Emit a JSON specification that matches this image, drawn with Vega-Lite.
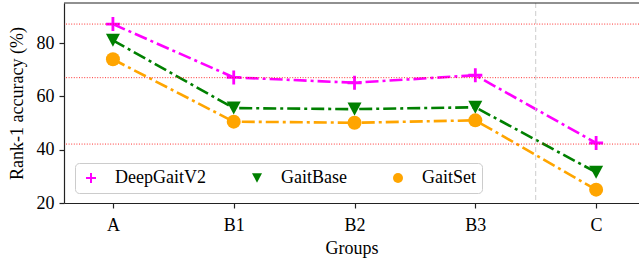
{
  "$schema": "https://vega.github.io/schema/vega-lite/v6.json",
  "width": 575,
  "height": 200,
  "autosize": {"type": "none"},
  "padding": {"left": 64, "top": 3, "right": 0, "bottom": 63},
  "config": {
    "view": {"stroke": null},
    "font": "Liberation Serif",
    "axis": {
      "labelFont": "Liberation Serif",
      "titleFont": "Liberation Serif",
      "labelFontSize": 18,
      "titleFontSize": 18,
      "titleFontWeight": "normal",
      "labelColor": "black",
      "titleColor": "black",
      "domainColor": "#222222",
      "tickColor": "#222222",
      "domainWidth": 1.2,
      "tickWidth": 1.2,
      "tickSize": 5,
      "grid": false
    },
    "legend": {
      "labelFont": "Liberation Serif", "labelFontSize": 18, "labelColor": "black", "padding": 6,
      "strokeColor": "#cccccc", "fillColor": "rgba(255,255,255,0.8)", "cornerRadius": 4,
      "symbolSize": 100, "symbolStrokeWidth": 0, "symbolOffset": 1, "labelOffset": 15, "columnPadding": 41
    }
  },
  "datasets": {
    "acc": [
      {"group": "A", "group_index": 0, "model": "DeepGaitV2", "accuracy": 87.1},
      {"group": "B1", "group_index": 1, "model": "DeepGaitV2", "accuracy": 67.1},
      {"group": "B2", "group_index": 2, "model": "DeepGaitV2", "accuracy": 65.1},
      {"group": "B3", "group_index": 3, "model": "DeepGaitV2", "accuracy": 67.9},
      {"group": "C", "group_index": 4, "model": "DeepGaitV2", "accuracy": 42.5},
      {"group": "A", "group_index": 0, "model": "GaitBase", "accuracy": 81.0},
      {"group": "B1", "group_index": 1, "model": "GaitBase", "accuracy": 55.6},
      {"group": "B2", "group_index": 2, "model": "GaitBase", "accuracy": 55.2},
      {"group": "B3", "group_index": 3, "model": "GaitBase", "accuracy": 55.9},
      {"group": "C", "group_index": 4, "model": "GaitBase", "accuracy": 31.5},
      {"group": "A", "group_index": 0, "model": "GaitSet", "accuracy": 73.9},
      {"group": "B1", "group_index": 1, "model": "GaitSet", "accuracy": 50.5},
      {"group": "B2", "group_index": 2, "model": "GaitSet", "accuracy": 50.1},
      {"group": "B3", "group_index": 3, "model": "GaitSet", "accuracy": 51.0},
      {"group": "C", "group_index": 4, "model": "GaitSet", "accuracy": 25.0}
    ],
    "refs": [{"level": 87.1}, {"level": 67.0}, {"level": 42.1}],
    "split": [{"between": 3.5}],
    "frame": [{"top": 95}]
  },
  "layer": [
    {
      "data": {"name": "acc"},
      "mark": {"type": "line", "strokeWidth": 2.6, "strokeDash": [13, 4, 3, 4]},
      "encoding": {
        "x": {
          "field": "group_index", "type": "quantitative",
          "scale": {"domain": [-0.405, 4.355], "nice": false, "zero": false},
          "axis": {"values": [0, 1, 2, 3, 4], "labelExpr": "['A','B1','B2','B3','C'][datum.value]", "title": "Groups", "labelPadding": 8, "titlePadding": 5}
        },
        "y": {
          "field": "accuracy", "type": "quantitative",
          "scale": {"domain": [20, 95], "nice": false, "zero": false},
          "axis": {"values": [20, 40, 60, 80], "title": "Rank-1 accuracy (%)", "labelPadding": 5, "titlePadding": 10}
        },
        "color": {"field": "model", "type": "nominal", "scale": {"domain": ["DeepGaitV2", "GaitBase", "GaitSet"], "range": ["#ff00ff", "#008000", "#ffa500"]},
          "legend": {"title": null, "orient": "bottom-left", "offset": 10.5, "direction": "horizontal", "columns": 3}}
      }
    },
    {
      "data": {"name": "acc"},
      "mark": {"type": "point", "filled": true, "size": 196, "opacity": 1},
      "encoding": {
        "x": {"field": "group_index", "type": "quantitative"},
        "y": {"field": "accuracy", "type": "quantitative"},
        "color": {"field": "model", "type": "nominal",
          "legend": {"title": null, "orient": "bottom-left", "offset": 10.5, "direction": "horizontal", "columns": 3}},
        "shape": {"field": "model", "type": "nominal", "scale": {"domain": ["DeepGaitV2", "GaitBase", "GaitSet"], "range": ["M-1,-0.2H-0.2V-1H0.2V-0.2H1V0.2H0.2V1H-0.2V0.2H-1Z", "M-1,-0.93L1,-0.93L0,0.93Z", "circle"]},
          "legend": {"title": null, "orient": "bottom-left", "offset": 10.5, "direction": "horizontal", "columns": 3}}
      }
    },
    {
      "data": {"name": "refs"},
      "mark": {"type": "rule", "color": "red", "strokeWidth": 1, "strokeDash": [1, 1.6], "opacity": 0.8},
      "encoding": {
        "y": {"field": "level", "type": "quantitative"}
      }
    },
    {
      "data": {"name": "split"},
      "mark": {"type": "rule", "color": "#cccccc", "strokeWidth": 1, "strokeDash": [5, 3]},
      "encoding": {
        "x": {"field": "between", "type": "quantitative"}
      }
    },
    {
      "data": {"name": "frame"},
      "mark": {"type": "rule", "color": "#222222", "strokeWidth": 1.2},
      "encoding": {"y": {"field": "top", "type": "quantitative"}}
    }
  ]
}
